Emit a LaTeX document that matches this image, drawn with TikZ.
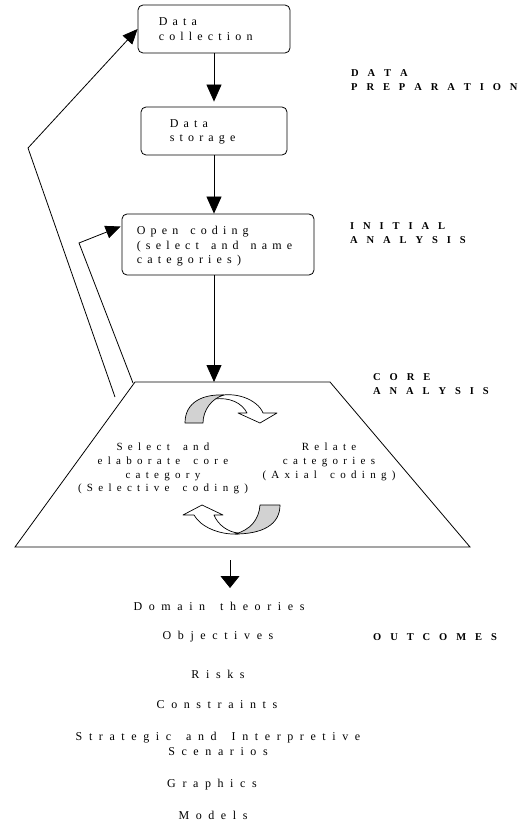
\documentclass[tikz,border=0pt]{standalone}
\usepackage{fontspec}
\setmainfont{Liberation Serif}
\makeatletter
\def\lsamt{0.4em}
\def\wspamt{1em}
\newcommand\lsw[1]{\@tfor\ls@c:=#1\do{\ls@c\kern\lsamt}\kern-\lsamt}
\makeatother
\newcommand\wsp{\hspace{\wspamt}}
\usetikzlibrary{arrows.meta,calc}
\tikzset{
  box/.style={draw, rounded corners=5pt, line width=0.8pt, inner sep=0pt},
  boxtext/.style={font={\fontsize{12}{14.5}\selectfont\def\lsamt{0.43em}\def\wspamt{1.0em}}, align=left, inner sep=0pt},
  traptext/.style={font={\fontsize{11}{13.7}\selectfont\def\lsamt{0.48em}\def\wspamt{1.2em}}, align=center, inner sep=0pt},
  outtext/.style={font={\fontsize{12}{15}\selectfont\def\lsamt{0.55em}\def\wspamt{1.25em}}, align=center, inner sep=0pt, anchor=north},
  labtext/.style={font={\bfseries\fontsize{10.5}{14}\selectfont\def\lsamt{0.85em}}, align=left, inner sep=0pt, anchor=north west},
  arr/.style={line width=0.8pt, -{Triangle[length=17pt,width=15pt]}},
  farr/.style={line width=0.8pt, -{Triangle[length=15pt,width=13pt]}},
  line/.style={line width=0.8pt},
  ribbon/.style={line width=0.7pt, line join=round}
}
\begin{document}
\begin{tikzpicture}[x=1pt,y=-1pt]
\useasboundingbox (0,0) rectangle (519,826);
% boxes
\node[box, minimum width=152pt, minimum height=48pt] (dc) at (214,29) {};
\node[boxtext, anchor=west] (dct) at ($(dc.west)+(21,0)$) {\lsw{Data}\\\lsw{collection}};
\node[box, minimum width=146pt, minimum height=48pt] (ds) at (214,131) {};
\node[boxtext, anchor=west] (dst) at ($(ds.west)+(29,1)$) {\lsw{Data}\\\lsw{storage}};
\node[box, minimum width=192pt, minimum height=61pt] (oc) at (218,244.5) {};
\node[boxtext, anchor=west] (oct) at ($(oc.west)+(15,2)$) {\lsw{Open}\wsp\lsw{coding}\\\lsw{(select}\wsp\lsw{and}\wsp\lsw{name}\\\lsw{categories)}};
% trapezoid
\coordinate (tl) at (135,382);
\coordinate (tr) at (330,382);
\coordinate (br) at (470,547);
\coordinate (bl) at (15,547);
\draw[line] (tl) -- (tr) -- (br) -- (bl) -- cycle;
\coordinate (ttop) at (214,382);
% main arrows
\draw[arr, shorten >=5pt] (dc) -- (ds);
\draw[arr] (ds.south) -- (ds.south |- oc.north);
\draw[arr] (oc.south -| ttop) -- (ttop);
% feedback arrows
\coordinate (fo) at (28,148);
\coordinate (foe) at (115,397);
\draw[farr] (foe) -- (fo) -- (dc.west);
\coordinate (fi) at (79,243);
\coordinate (fie) at (133,383);
\coordinate (octip) at ($(oc.west)+(-1,-18)$);
\draw[farr] (fie) -- (fi) -- (octip);
% curved arrows (top)
\draw[ribbon, fill=white] (214,397) .. controls (235,390) and (258,400) .. (263,413)
  -- (277,413) -- (260,423) -- (238,413) -- (247,413)
  .. controls (242,403) and (230,397) .. (214,399) -- cycle;
\draw[ribbon, fill=gray!35] (185,423) .. controls (185,402) and (203,394) .. (224,395)
  .. controls (212,398) and (203,410) .. (203,423) -- cycle;
% curved arrows (bottom)
\draw[ribbon, fill=white] (238,534) .. controls (218,535) and (200,526) .. (194,515)
  -- (183,515) -- (202,505) -- (223,515) -- (214,515)
  .. controls (218,525) and (228,532) .. (238,533) -- cycle;
\draw[ribbon, fill=gray!35] (260,505) -- (280,505) .. controls (280,525) and (262,534) .. (235,534)
  .. controls (250,530) and (259,520) .. (260,505) -- cycle;
% trapezoid texts
\node[traptext, anchor=north] (sel) at (163,443) {\lsw{Select}\wsp\lsw{and}\\\lsw{elaborate}\wsp\lsw{core}\\\lsw{category}\\\lsw{(Selective}\wsp\lsw{coding)}};
\node[traptext, anchor=north] (rel) at (329,443) {\lsw{Relate}\\\lsw{categories}\\\lsw{(Axial}\wsp\lsw{coding)}};
% arrow to outcomes
\coordinate (ob) at (230,560);
\coordinate (oe) at (230,588);
\draw[line, -{Triangle[length=12pt,width=19pt]}] (ob) -- (oe);
% outcomes
\node[outtext] (o1) at (219,602) {\lsw{Domain}\wsp\lsw{theories}};
\node[outtext] (o2) at (218,630.5) {\lsw{Objectives}};
\node[outtext] (o3) at (218,670) {\lsw{Risks}};
\node[outtext] (o4) at (217,700.5) {\lsw{Constraints}};
\node[outtext] (o5) at (218,732) {\lsw{Strategic}\wsp\lsw{and}\wsp\lsw{Interpretive}\\\lsw{Scenarios}};
\node[outtext] (o6) at (212,779) {\lsw{Graphics}};
\node[outtext] (o7) at (213,811) {\lsw{Models}};
% labels
\node[labtext] (l1) at (351,69) {\lsw{DATA}\\\lsw{PREPARATION}};
\node[labtext] (l2) at (350,222) {\lsw{INITIAL}\\\lsw{ANALYSIS}};
\node[labtext] (l3) at (373,373) {\lsw{CORE}\\\lsw{ANALYSIS}};
\node[labtext] (l4) at (373,633) {\lsw{OUTCOMES}};
\end{tikzpicture}
\end{document}
